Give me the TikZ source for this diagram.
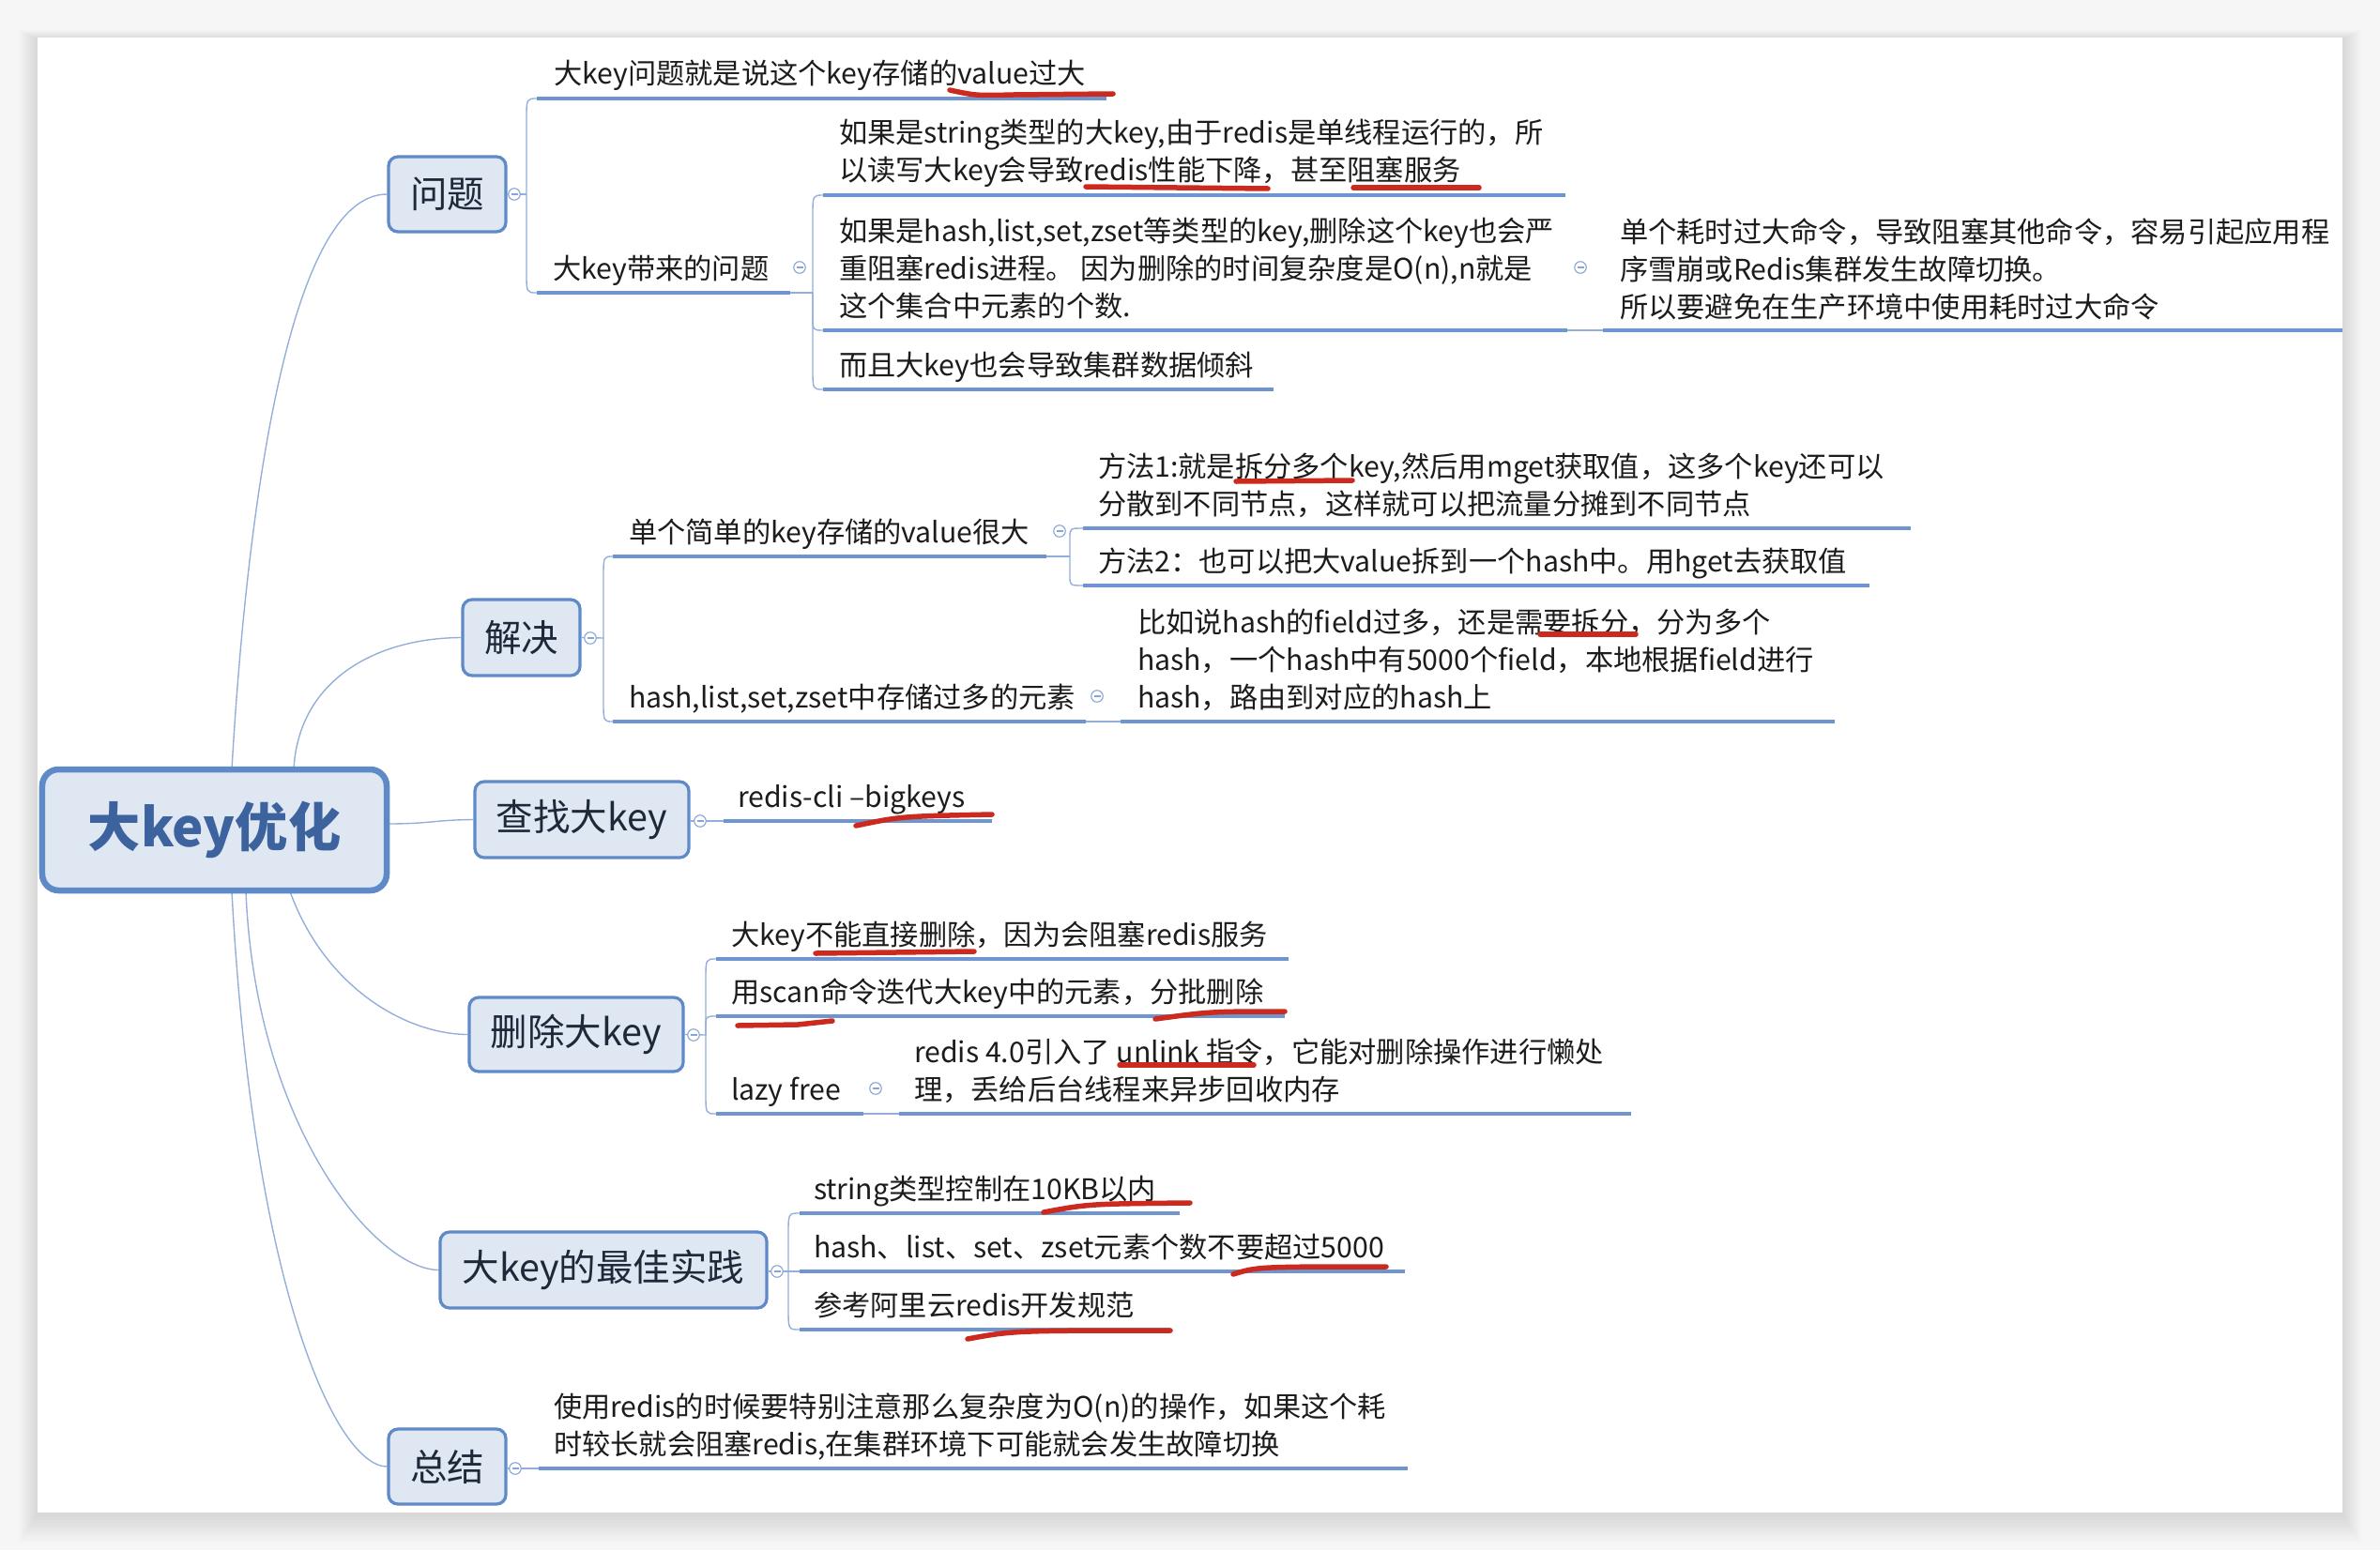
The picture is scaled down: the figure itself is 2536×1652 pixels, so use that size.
\documentclass[tikz,border=0pt]{standalone}
\usepackage{fontspec}
\setmainfont{Noto Sans CJK SC}
\usetikzlibrary{calc}
\pgfdeclarelayer{bg}
\pgfdeclarelayer{lines}
\pgfsetlayers{bg,lines,main}
\definecolor{bgc}{HTML}{F6F6F6}
\definecolor{boxf}{HTML}{DFE7F3}
\definecolor{boxb}{HTML}{5F8AC8}
\definecolor{ulc}{HTML}{6E95D0}
\definecolor{connc}{HTML}{93AEDA}
\definecolor{cbc}{HTML}{88A5D6}
\definecolor{redc}{HTML}{CC2A1E}
\definecolor{txtc}{HTML}{1C1C1C}
\definecolor{topictxt}{HTML}{1E2838}
\definecolor{roottxt}{HTML}{3D639E}
\tikzset{
 uline/.style={draw=ulc, line width=1.7pt},
 conn/.style={draw=connc, line width=0.55pt},
 redmark/.style={draw=redc, line width=2.2pt, line cap=round},
 txt/.style={anchor=base west, inner sep=0pt, outer sep=0pt, text=txtc, font=\fontsize{12.1pt}{16pt}\selectfont},
 topic/.style={draw=boxb, fill=boxf, rounded corners=4pt, line width=1.3pt, inner sep=0pt, text=topictxt, font=\fontsize{15.8pt}{19pt}\selectfont},
 rootbox/.style={draw=boxb, fill=boxf, rounded corners=7pt, line width=2.6pt, inner sep=0pt, text=roottxt, font=\fontsize{22.5pt}{27pt}\selectfont\bfseries},
 cbtn/.style={circle, draw=cbc, fill=white, minimum size=5pt, inner sep=0pt, line width=0.45pt,
   path picture={\draw[cbc, line width=0.45pt] ([xshift=-1.4pt]path picture bounding box.center) -- ([xshift=1.4pt]path picture bounding box.center);}},
}
\newcommand\ul[4]{\coordinate (#1s) at (#2,#4); \coordinate (#1e) at (#3,#4); \draw[uline] (#1s) -- (#1e);}
\newcommand\tl[4]{\node[txt] (#1) at (#2,#3) {#4};}
\newcommand\cb[3]{\node[cbtn] (#1) at (#2,#3) {};}
\newcommand\brup[3][9pt]{\draw[conn] (#2) -- ($(#2 |- #3)+(0,-#1)$) .. controls (#2 |- #3) .. (#3);}
\newcommand\brdn[3][9pt]{\draw[conn] (#2) -- ($(#2 |- #3)+(0,#1)$) .. controls (#2 |- #3) .. (#3);}
\begin{document}
\begin{tikzpicture}[x=0.4pt,y=-0.4pt]
\useasboundingbox (0,0) rectangle (2536,1652);
\begin{pgfonlayer}{bg}
\fill[bgc] (0,0) rectangle (2536,1652);
\foreach \i in {1,...,10} \fill[black,opacity=0.01] ({40-2*\i},{42-\i}) rectangle ({2496+2*\i},{1614+3*\i});
\fill[white] (40,40) rectangle (2496,1612);
\end{pgfonlayer}

% ---------- main topics ----------
\node[rootbox, minimum width=146.8pt, minimum height=51.6pt] (root) at (228.5,884.5) {大key优化};
\node[topic, minimum width=50pt, minimum height=32pt] (nWT) at (476.5,207) {问题};
\node[topic, minimum width=50pt, minimum height=32.4pt] (nJJ) at (555.5,679.5) {解决};
\node[topic, minimum width=91.2pt, minimum height=32.4pt] (nCZ) at (620,873.5) {查找大key};
\node[topic, minimum width=91.2pt, minimum height=31.6pt] (nSC) at (614,1102.5) {删除大key};
\node[topic, minimum width=139.2pt, minimum height=32.4pt] (nZJ) at (643,1353.5) {大key的最佳实践};
\node[topic, minimum width=50pt, minimum height=32pt] (nZG) at (476.5,1563) {总结};

% ---------- texts ----------
\tl{tq1}{590}{90}{大key问题就是说这个key存储的value过大}
\tl{tq2}{589}{297}{大key带来的问题}
\tl{tq2a1}{894}{153}{如果是string类型的大key,由于redis是单线程运行的，所}
\tl{tq2a2}{894}{193}{以读写大key会导致redis性能下降，甚至阻塞服务}
\tl{tq2b1}{894}{257}{如果是hash,list,set,zset等类型的key,删除这个key也会严}
\tl{tq2b2}{894}{297}{重阻塞redis进程。 因为删除的时间复杂度是O(n),n就是}
\tl{tq2b3}{894}{337}{这个集合中元素的个数.}
\tl{tq2c}{894}{400}{而且大key也会导致集群数据倾斜}
\tl{tq2d1}{1726}{258}{单个耗时过大命令，导致阻塞其他命令，容易引起应用程}
\tl{tq2d2}{1726}{298}{序雪崩或Redis集群发生故障切换。}
\tl{tq2d3}{1726}{338}{所以要避免在生产环境中使用耗时过大命令}
\tl{ts1}{670}{578}{单个简单的key存储的value很大}
\tl{ts2}{670}{754}{hash,list,set,zset中存储过多的元素}
\tl{ts1a1}{1170}{508}{方法1:就是拆分多个key,然后用mget获取值，这多个key还可以}
\tl{ts1a2}{1170}{548}{分散到不同节点，这样就可以把流量分摊到不同节点}
\tl{ts1b}{1170}{609}{方法2：也可以把大value拆到一个hash中。用hget去获取值}
\tl{ts2a1}{1212}{674}{比如说hash的field过多，还是需要拆分，分为多个}
\tl{ts2a2}{1212}{714}{hash，一个hash中有5000个field，本地根据field进行}
\tl{ts2a3}{1212}{754}{hash，路由到对应的hash上}
\tl{tf1}{786}{860}{redis-cli –bigkeys}
\tl{td1}{779}{1007}{大key不能直接删除，因为会阻塞redis服务}
\tl{td2}{779}{1068}{用scan命令迭代大key中的元素，分批删除}
\tl{td3}{779}{1172}{lazy free}
\tl{td3a1}{974}{1132}{redis 4.0引入了 unlink 指令，它能对删除操作进行懒处}
\tl{td3a2}{974}{1172}{理，丢给后台线程来异步回收内存}
\tl{tb1}{867}{1278}{string类型控制在10KB以内}
\tl{tb2}{867}{1340}{hash、list、set、zset元素个数不要超过5000}
\tl{tb3}{867}{1402}{参考阿里云redis开发规范}
\tl{tz1a}{590}{1510}{使用redis的时候要特别注意那么复杂度为O(n)的操作，如果这个耗}
\tl{tz1b}{590}{1550}{时较长就会阻塞redis,在集群环境下可能就会发生故障切换}

% ---------- collapse buttons ----------
\cb{cq}{548}{207}
\cb{cq2}{852}{285}
\cb{cq2b}{1684}{285}
\cb{cj}{629}{680}
\cb{cs1}{1129}{566}
\cb{cs2}{1169}{742}
\cb{cc}{746}{875}
\cb{cd}{739}{1103}
\cb{cd3}{933}{1160}
\cb{cb}{828}{1355}
\cb{cg}{549}{1565}

\begin{pgfonlayer}{lines}
% root connectors
\coordinate (rq) at (247,820);
\coordinate (rj) at (313,820);
\coordinate (rc) at (412,878);
\coordinate (rs) at (309,950);
\coordinate (rb) at (262,950);
\coordinate (rg) at (247,950);
\draw[conn] (rq) .. controls (262,560) and (305,207) .. (nWT.west);
\draw[conn] (rj) .. controls (318,725) and (400,680) .. (nJJ.west);
\draw[conn] (rc) .. controls (460,878) and (460,874) .. (nCZ.west);
\draw[conn] (rs) .. controls (345,1050) and (430,1102) .. (nSC.west);
\draw[conn] (rb) .. controls (272,1200) and (400,1353) .. (nZJ.west);
\draw[conn] (rg) .. controls (270,1380) and (360,1563) .. (nZG.west);

% 问题
\coordinate (jq) at (561,207);
\draw[conn] (nWT.east) -- (jq);
\ul{uq1}{572}{1179}{105}
\ul{uq2}{572}{842}{312}
\brup{jq}{uq1s}
\brdn{jq}{uq2s}
\coordinate (jq2) at (866,312);
\draw[conn] (uq2e) -- (jq2);
\ul{uq2a}{877}{1668}{208}
\ul{uq2b}{877}{1670}{352}
\ul{uq2c}{877}{1357}{415}
\brup{jq2}{uq2as}
\brdn[6pt]{jq2}{uq2bs}
\brdn{jq2}{uq2cs}
\ul{uq2d}{1708}{2496}{352}
\draw[conn] (uq2be) -- (uq2ds);

% 解决
\coordinate (jj) at (643,680);
\draw[conn] (nJJ.east) -- (jj);
\ul{us1}{653}{1115}{593}
\ul{us2}{653}{1157}{769}
\brup{jj}{us1s}
\brdn{jj}{us2s}
\coordinate (js1) at (1140,593);
\draw[conn] (us1e) -- (js1);
\ul{us1a}{1154}{2036}{563}
\ul{us1b}{1154}{1992}{624}
\brup[4pt]{js1}{us1as}
\brdn[4pt]{js1}{us1bs}
\ul{us2a}{1194}{1955}{769}
\draw[conn] (us2e) -- (us2as);

% 查找
\ul{uf1}{771}{1057}{875}
\draw[conn] (nCZ.east |- uf1s) -- (uf1s);

% 删除
\coordinate (jd) at (752,1103);
\draw[conn] (nSC.east) -- (jd);
\ul{ud1}{763}{1373}{1022}
\ul{ud2}{763}{1369}{1083}
\ul{ud3}{763}{920}{1187}
\brup{jd}{ud1s}
\brup[5pt]{jd}{ud2s}
\brdn{jd}{ud3s}
\ul{ud3a}{958}{1738}{1187}
\draw[conn] (ud3e) -- (ud3as);

% 最佳实践
\coordinate (jb) at (840,1355);
\draw[conn] (nZJ.east |- jb) -- (jb);
\ul{ub1}{852}{1257}{1293}
\ul{ub2}{852}{1497}{1355}
\ul{ub3}{852}{1247}{1417}
\brup{jb}{ub1s}
\draw[conn] (jb) -- (ub2s);
\brdn{jb}{ub3s}

% 总结
\ul{uz1}{574}{1500}{1565}
\draw[conn] (nZG.east |- uz1s) -- (uz1s);
\end{pgfonlayer}

% ---------- red hand marks ----------
\draw[redmark] (1012,96) .. controls (1040,102) .. (1080,101) -- (1186,100);
\draw[redmark] (1157,199) -- (1351,201);
\draw[redmark] (1442,200) -- (1576,200);
\draw[redmark] (1317,513) -- (1441,512);
\draw[redmark] (1641,676) -- (1743,676);
\draw[redmark] (912,880) .. controls (960,870) .. (1057,868);
\draw[redmark] (869,1016) -- (1038,1014);
\draw[redmark] (1231,1086) .. controls (1290,1078) .. (1369,1078);
\draw[redmark] (786,1093) -- (850,1092) -- (887,1088);
\draw[redmark] (1193,1135) -- (1336,1135);
\draw[redmark] (1112,1292) .. controls (1160,1283) .. (1268,1282);
\draw[redmark] (1314,1358) .. controls (1340,1350) .. (1477,1350);
\draw[redmark] (1031,1427) .. controls (1080,1418) .. (1247,1418);
\end{tikzpicture}
\end{document}
